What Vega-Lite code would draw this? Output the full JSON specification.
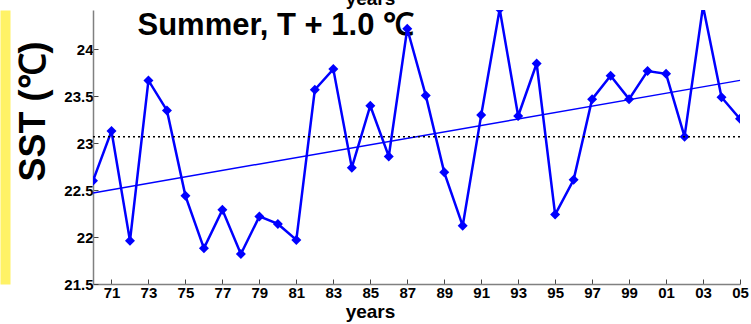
{
  "$schema": "https://vega.github.io/schema/vega-lite/v6.json",
  "width": 647,
  "height": 274,
  "autosize": {"type": "none"},
  "padding": {"left": 93, "top": 10, "right": 11, "bottom": 40},
  "background": "white",
  "config": {
    "view": {"stroke": null},
    "font": "Liberation Sans",
    "axis": {"grid": false, "labelFont": "Liberation Sans", "titleFont": "Liberation Sans"}
  },
  "datasets": {
    "sst": [
      {"year": 1970, "sst": 22.60}, {"year": 1971, "sst": 23.13}, {"year": 1972, "sst": 21.96},
      {"year": 1973, "sst": 23.67}, {"year": 1974, "sst": 23.35}, {"year": 1975, "sst": 22.44},
      {"year": 1976, "sst": 21.88}, {"year": 1977, "sst": 22.29}, {"year": 1978, "sst": 21.82},
      {"year": 1979, "sst": 22.22}, {"year": 1980, "sst": 22.14}, {"year": 1981, "sst": 21.97},
      {"year": 1982, "sst": 23.57}, {"year": 1983, "sst": 23.79}, {"year": 1984, "sst": 22.74},
      {"year": 1985, "sst": 23.40}, {"year": 1986, "sst": 22.86}, {"year": 1987, "sst": 24.22},
      {"year": 1988, "sst": 23.51}, {"year": 1989, "sst": 22.69}, {"year": 1990, "sst": 22.12},
      {"year": 1991, "sst": 23.30}, {"year": 1992, "sst": 24.43}, {"year": 1993, "sst": 23.29},
      {"year": 1994, "sst": 23.85}, {"year": 1995, "sst": 22.24}, {"year": 1996, "sst": 22.61},
      {"year": 1997, "sst": 23.47}, {"year": 1998, "sst": 23.72}, {"year": 1999, "sst": 23.47},
      {"year": 2000, "sst": 23.77}, {"year": 2001, "sst": 23.74}, {"year": 2002, "sst": 23.07},
      {"year": 2003, "sst": 24.46}, {"year": 2004, "sst": 23.49}, {"year": 2005, "sst": 23.26}
    ],
    "trend": [
      {"year": 1970, "sst": 22.47},
      {"year": 2005, "sst": 23.67}
    ],
    "mean": [{"sst": 23.07}]
  },
  "resolve": {"axis": {"x": "independent", "y": "independent"}},
  "layer": [
    {
      "data": {"name": "sst"},
      "mark": {"type": "line", "color": "#0000FF", "strokeWidth": 2.5, "clip": true},
      "encoding": {
        "x": {
          "field": "year", "type": "quantitative",
          "scale": {"domain": [1970, 2005], "nice": false, "zero": false},
          "axis": {
            "orient": "bottom",
            "values": [1971, 1973, 1975, 1977, 1979, 1981, 1983, 1985, 1987, 1989, 1991, 1993, 1995, 1997, 1999, 2001, 2003, 2005],
            "labelExpr": "format(datum.value % 100, '02d')",
            "labelFontSize": 15, "labelFontWeight": "bold", "labelColor": "black",
            "labelPadding": 6, "labelFlush": false,
            "tickSize": -5, "tickColor": "#444", "domainColor": "#808080", "domainWidth": 1.5,
            "title": "years", "titleFontSize": 19, "titleFontWeight": "bold", "titleColor": "black",
            "titlePadding": 2, "titleX": 277
          }
        },
        "y": {
          "field": "sst", "type": "quantitative",
          "scale": {"domain": [21.5, 24.42], "nice": false, "zero": false},
          "axis": {
            "orient": "left",
            "values": [21.5, 22, 22.5, 23, 23.5, 24],
            "format": ".1~f",
            "labelFontSize": 15, "labelFontWeight": "bold", "labelColor": "black",
            "labelPadding": 5,
            "tickSize": -5, "tickColor": "#444", "domainColor": "#808080", "domainWidth": 1.5,
            "title": "SST (℃)", "titleFontSize": 36, "titleFontWeight": "bold", "titleColor": "black",
            "titleX": -60, "titleY": 101, "titleBaseline": "middle", "titleAngle": -90, "titleAlign": "center"
          }
        }
      }
    },
    {
      "data": {"name": "sst"},
      "mark": {"type": "point", "shape": "diamond", "filled": true, "color": "#0000FF", "size": 100, "opacity": 1, "clip": true},
      "encoding": {
        "x": {
          "field": "year", "type": "quantitative",
          "scale": {"domain": [1970, 2005], "nice": false, "zero": false},
          "axis": {
            "orient": "top", "labels": false, "ticks": false, "domain": false,
            "title": "Summer, T + 1.0 ℃", "titleFontSize": 31, "titleFontWeight": "bold", "titleColor": "black",
            "titleAlign": "left", "titleAnchor": "start", "titleBaseline": "alphabetic", "titleX": 44, "titleY": 24
          }
        },
        "y": {"field": "sst", "type": "quantitative", "scale": {"domain": [21.5, 24.42], "nice": false, "zero": false}, "axis": null}
      }
    },
    {
      "data": {"name": "trend"},
      "mark": {"type": "line", "color": "#0000FF", "strokeWidth": 1.5},
      "encoding": {
        "x": {
          "field": "year", "type": "quantitative",
          "scale": {"domain": [1970, 2005], "nice": false, "zero": false},
          "axis": {
            "orient": "top", "labels": false, "ticks": false, "domain": false,
            "title": "years", "titleFontSize": 19, "titleFontWeight": "bold", "titleColor": "black",
            "titleBaseline": "alphabetic", "titleY": -6, "titleX": 277
          }
        },
        "y": {
          "field": "sst", "type": "quantitative",
          "scale": {"domain": [21.5, 24.42], "nice": false, "zero": false},
          "axis": {
            "orient": "left", "offset": 88, "labels": false, "ticks": false, "title": null,
            "domainColor": "#FFF266", "domainWidth": 10
          }
        }
      }
    },
    {
      "data": {"name": "mean"},
      "mark": {"type": "rule", "color": "black", "strokeWidth": 1.5, "strokeDash": [2, 3]},
      "encoding": {
        "y": {"field": "sst", "type": "quantitative", "scale": {"domain": [21.5, 24.42], "nice": false, "zero": false}, "axis": null}
      }
    }
  ]
}
